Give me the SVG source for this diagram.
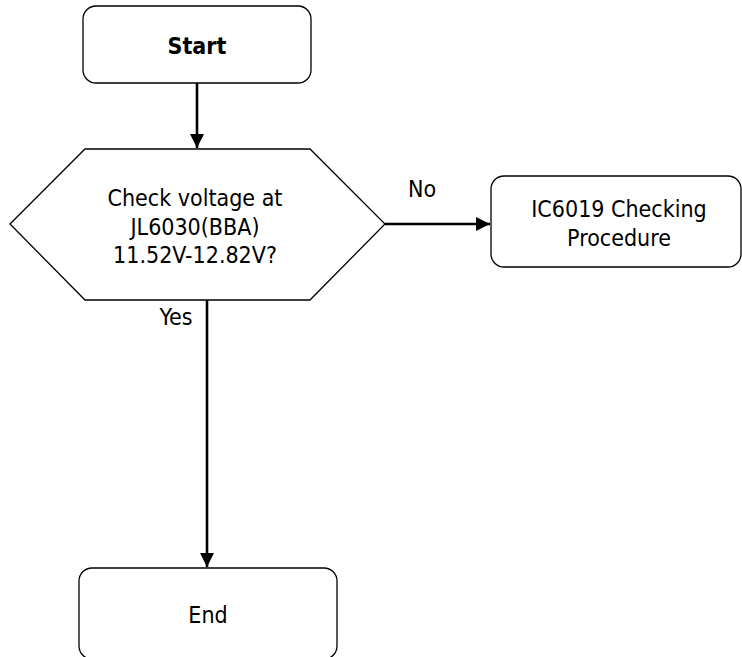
<svg xmlns="http://www.w3.org/2000/svg" width="742" height="657" viewBox="0 0 742 657">
  <style>
    .shape { fill: #ffffff; stroke: #000000; stroke-width: 1.3; }
    .edge { fill: none; stroke: #000000; stroke-width: 2.6; }
    .label { font-family: "DejaVu Sans Condensed", "DejaVu Sans", sans-serif; font-size: 23px; fill: #000000; text-anchor: middle; }
    .bold { font-weight: bold; }
  </style>
  <defs>
    <marker id="arrow" viewBox="0 0 10 10" refX="10" refY="5" markerWidth="14" markerHeight="14" markerUnits="userSpaceOnUse" orient="auto">
      <path d="M0,0 L10,5 L0,10 Z" fill="#000000"/>
    </marker>
  </defs>
  <rect width="742" height="657" fill="#ffffff"/>

  <g id="connectors">
    <line class="edge" x1="197" y1="83" x2="197" y2="148" marker-end="url(#arrow)"/>
    <line class="edge" x1="385" y1="224" x2="490" y2="224" marker-end="url(#arrow)"/>
    <line class="edge" x1="207" y1="300" x2="207" y2="567" marker-end="url(#arrow)"/>
    <text class="label" x="422" y="197">No</text>
    <text class="label" x="176" y="325">Yes</text>
  </g>

  <g id="start">
    <rect class="shape" x="83" y="6" width="228" height="77" rx="13" ry="13"/>
    <text class="label bold" x="197" y="54">Start</text>
  </g>

  <g id="check-voltage">
    <polygon class="shape" points="10,224 85,149 310,149 385,224 310,300 85,300"/>
    <text class="label" x="195" y="206">Check voltage at</text>
    <text class="label" x="195" y="235">JL6030(BBA)</text>
    <text class="label" x="195" y="263">11.52V-12.82V?</text>
  </g>

  <g id="ic6019">
    <rect class="shape" x="491" y="176" width="250" height="91" rx="13" ry="13"/>
    <text class="label" x="619" y="217">IC6019 Checking</text>
    <text class="label" x="619" y="246">Procedure</text>
  </g>

  <g id="end">
    <rect class="shape" x="79" y="568" width="258" height="91" rx="13" ry="13"/>
    <text class="label" x="208" y="623">End</text>
  </g>
</svg>
